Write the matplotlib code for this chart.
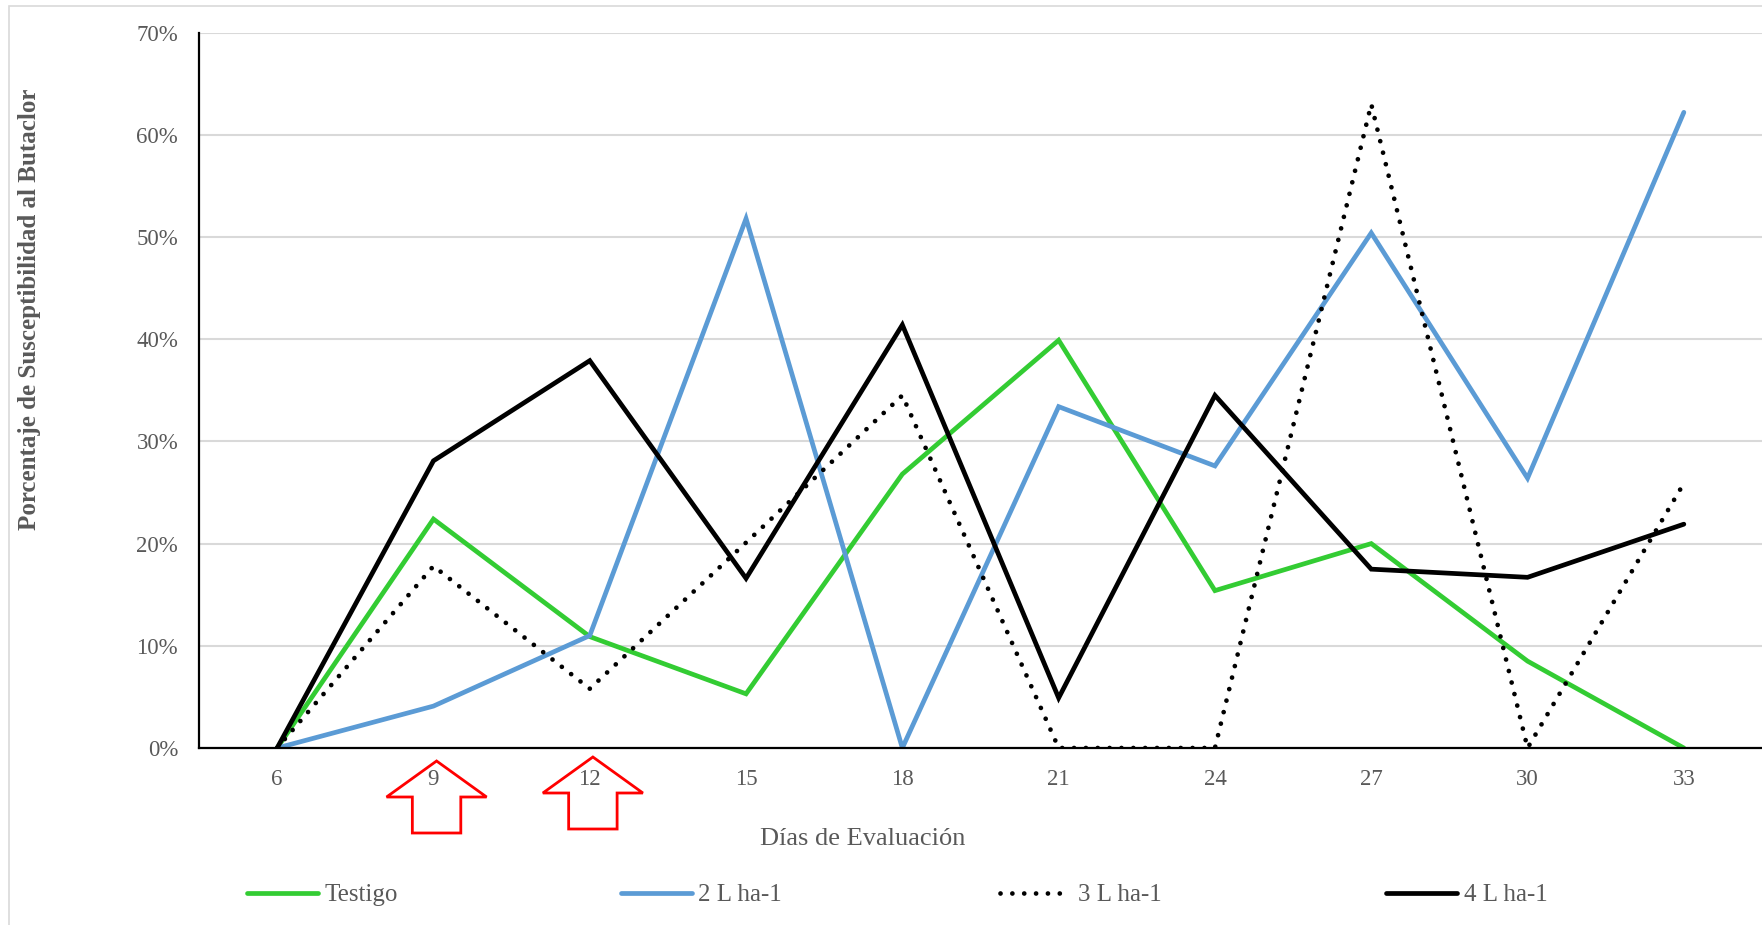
import numpy as np
import matplotlib.pyplot as plt
from matplotlib.patches import Polygon, Rectangle
import matplotlib.transforms as mtransforms

plt.rcParams['font.family'] = ['Liberation Serif', 'DejaVu Serif']

# días de evaluación y porcentaje de susceptibilidad (%)
dias = ["6", "9", "12", "15", "18", "21", "24", "27", "30", "33"]
testigo = [0.0, 22.4, 10.9, 5.3, 26.8, 39.9, 15.4, 20.0, 8.5, 0.0]
dosis_2 = [0.0, 4.1, 11.0, 51.8, 0.0, 33.4, 27.6, 50.4, 26.4, 62.2]
dosis_3 = [0.0, 17.8, 5.8, 20.1, 34.5, 0.0, 0.0, 63.0, 0.0, 25.9]
dosis_4 = [0.0, 28.1, 37.9, 16.6, 41.4, 4.9, 34.5, 17.5, 16.7, 21.9]

# días de aplicación marcados con flecha
aplicaciones = ["9", "12"]

gris = "#595959"
W, H = 1762, 925

fig = plt.figure(figsize=(W / 100, H / 100), dpi=100)
ax = fig.add_axes([199 / W, 1 - 748 / H, 1 - 199 / W, (748 - 32.6) / H])

x = np.arange(len(dias))
lw = 3.4
ax.plot(x, np.array(testigo) / 100, color="#33CC33", lw=lw, solid_capstyle="round",
        solid_joinstyle="miter", label="Testigo", zorder=3)
ax.plot(x, np.array(dosis_2) / 100, color="#5B9BD5", lw=lw, solid_capstyle="round",
        solid_joinstyle="miter", label="2 L ha-1", zorder=3)
ax.plot(x, np.array(dosis_3) / 100, color="black", lw=lw, ls=(0, (0.01, 2.5)),
        dash_capstyle="round", label="3 L ha-1", zorder=3)
ax.plot(x, np.array(dosis_4) / 100, color="black", lw=lw, solid_capstyle="round",
        solid_joinstyle="miter", label="4 L ha-1", zorder=3)

ax.set_xlim(-0.5, len(dias) - 0.5)
ax.set_ylim(0, 0.70)
ax.set_yticks(np.arange(0, 0.71, 0.10))
ax.set_yticklabels([f"{int(round(v * 100))}%" for v in np.arange(0, 0.71, 0.10)])
ax.set_xticks(x)
ax.set_xticklabels(dias)
ax.tick_params(length=0, labelsize=16.5, labelcolor=gris)
ax.tick_params(axis="x", pad=15)
ax.tick_params(axis="y", pad=15)

ax.grid(axis="y", color="#D9D9D9", lw=1.5)
ax.set_axisbelow(True)
for s in ["top", "right"]:
    ax.spines[s].set_visible(False)
for s in ["left", "bottom"]:
    ax.spines[s].set_color("black")
    ax.spines[s].set_linewidth(1.6)
    ax.spines[s].set_zorder(4)

# flechas rojas bajo los días de aplicación
trans = mtransforms.blended_transform_factory(ax.transData, ax.transAxes)
alto = 748 - 32.6
for dia, top in zip(aplicaciones, [761, 757]):
    cx = dias.index(dia) + 0.02
    t = -(top - 748) / alto
    w = -(top + 36 - 748) / alto
    b = -(top + 72 - 748) / alto
    pts = [(cx, t), (cx + 0.32, w), (cx + 0.155, w), (cx + 0.155, b),
           (cx - 0.155, b), (cx - 0.155, w), (cx - 0.32, w)]
    ax.add_patch(Polygon(pts, closed=True, fill=False, edgecolor="red", lw=2,
                         transform=trans, clip_on=False, zorder=5))

fig.text(30 / W, 1 - 309 / H, "Porcentaje de Susceptibilidad al Butaclor",
         rotation=90, ha="center", va="center", fontsize=18, fontweight="bold", color=gris)
fig.text(863 / W, 1 - 839 / H, "Días de Evaluación", ha="center", va="center",
         fontsize=19, color=gris)

# leyenda: cada entrada en su posición
handles, labels = ax.get_legend_handles_labels()
for h, lab, x0 in zip(handles, labels, [247, 621, 1000, 1386]):
    fig.legend([h], [lab], loc="center left", bbox_to_anchor=(x0 / W, 1 - 895 / H),
               frameon=False, borderpad=0, borderaxespad=0, fontsize=18,
               handlelength=2.85, handletextpad=0.25, labelcolor=gris)

# marco del área del gráfico
fig.patches.append(Rectangle((9 / W, -0.5), 2, 1.5 - 6 / H, transform=fig.transFigure,
                             fill=False, edgecolor="#D9D9D9", lw=1.2))

fig.savefig("out.png", dpi=100)
